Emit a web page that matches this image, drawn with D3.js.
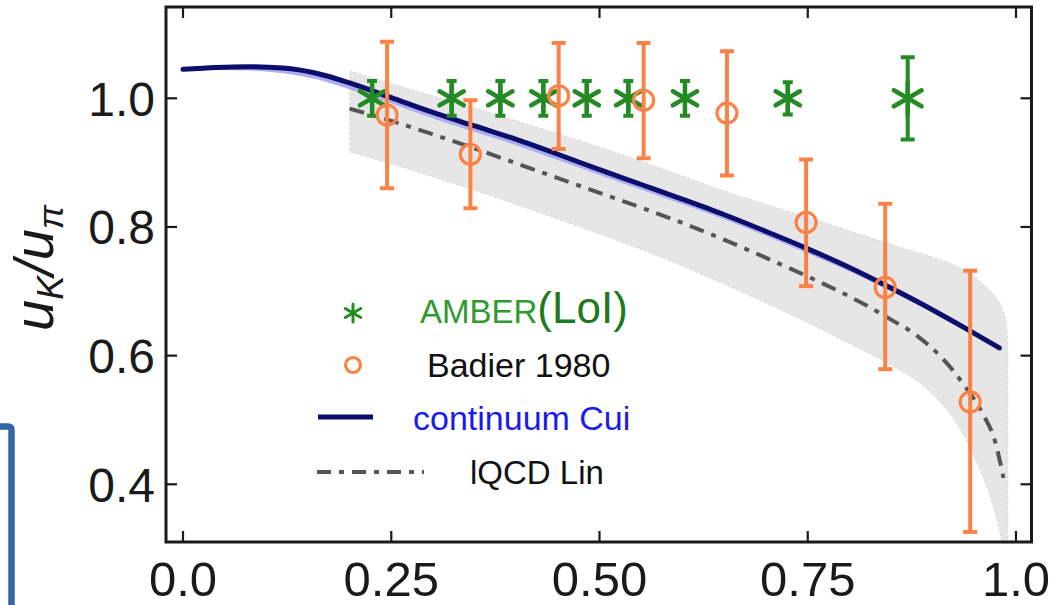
<!DOCTYPE html>
<html><head><meta charset="utf-8">
<script src="https://cdn.jsdelivr.net/npm/d3@7"></script>
<style>html,body{margin:0;padding:0;background:#fff;}svg{display:block;}</style>
</head><body>
<svg id="c" width="1056" height="605"></svg>
<script>
// ---------- data ----------
const xTicks = [0, 0.25, 0.5, 0.75, 1.0];
const xTickLabels = ["0.0", "0.25", "0.50", "0.75", "1.0"];
const yTicks = [0.4, 0.6, 0.8, 1.0];
const yTickLabels = ["0.4", "0.6", "0.8", "1.0"];

// continuum Cui (solid navy)
const cuiX = [0.00,0.04,0.08,0.12,0.16,0.20,0.25,0.30,0.35,0.40,0.45,0.50,0.55,0.60,0.65,0.70,0.75,0.80,0.85,0.90,0.94,0.98];
const cuiY = [1.045,1.048,1.049,1.047,1.039,1.024,1.001,0.978,0.957,0.936,0.913,0.889,0.866,0.843,0.819,0.793,0.766,0.737,0.705,0.671,0.642,0.612];
// thin lavender band around Cui
const cuiBandLo = [1.045,1.046,1.045,1.041,1.032,1.016,0.994,0.971,0.950,0.929,0.906,0.883,0.860,0.837,0.814,0.788,0.761,0.733,0.702,0.669,0.641,0.612];
const cuiBandHi = [1.045,1.049,1.050,1.048,1.040,1.025,1.002,0.979,0.958,0.937,0.914,0.890,0.867,0.844,0.820,0.794,0.767,0.738,0.706,0.672,0.643,0.612];

// lQCD Lin (dash-dot)
const linX = [0.20,0.25,0.30,0.35,0.40,0.45,0.50,0.55,0.60,0.65,0.70,0.75,0.80,0.85,0.88,0.91,0.94,0.96,0.975,0.985];
const linY = [0.984,0.965,0.944,0.922,0.899,0.876,0.853,0.830,0.806,0.780,0.752,0.723,0.692,0.656,0.632,0.598,0.550,0.510,0.466,0.410];
// lQCD band (grey)
const bandX  = [0.20,0.25,0.30,0.35,0.40,0.45,0.50,0.55,0.60,0.65,0.70,0.75,0.80,0.86,0.90,0.93,0.95,0.965,0.977,0.985,0.989,0.990];
const bandHi = [1.043,1.023,1.004,0.985,0.965,0.945,0.924,0.902,0.879,0.856,0.835,0.815,0.794,0.769,0.753,0.738,0.723,0.706,0.688,0.668,0.645,0.620];
const bandLoX = [0.20,0.25,0.30,0.35,0.40,0.45,0.50,0.55,0.60,0.65,0.70,0.75,0.80,0.85,0.90,0.93,0.955,0.975,0.990];
const bandLo  = [0.917,0.898,0.878,0.857,0.835,0.812,0.789,0.765,0.739,0.711,0.682,0.651,0.619,0.585,0.540,0.492,0.428,0.355,0.270];

// Badier 1980
const badX  = [0.245,0.345,0.451,0.553,0.653,0.748,0.843,0.945];
const badY  = [0.974,0.913,1.004,0.997,0.977,0.807,0.706,0.528];
const badHi = [1.088,0.997,1.086,1.086,1.073,0.905,0.836,0.732];
const badLo = [0.860,0.829,0.921,0.907,0.880,0.708,0.579,0.326];

// AMBER (LoI) projection
const ambX  = [0.227,0.3225,0.381,0.4326,0.4847,0.5346,0.6026,0.726,0.870];
const ambY  = [1,1,1,1,1,1,1,1,1];
const ambErr= [0.027,0.027,0.027,0.027,0.027,0.027,0.027,0.025,0.064];

// ---------- layout ----------
const svg = d3.select("#c");
const x = d3.scaleLinear().domain([0,1]).range([183,1016]);
const y = d3.scaleLinear().domain([0.4,1.0]).range([484.3,98.3]);
const F = {l:166, r:1031.5, t:7, b:542};
const font = "'Liberation Sans', Arial, Helvetica, sans-serif";

const defs = svg.append("defs");
defs.append("clipPath").attr("id","clip").append("rect")
  .attr("x",F.l).attr("y",F.t).attr("width",F.r-F.l).attr("height",F.b-F.t);

const g = svg.append("g").attr("clip-path","url(#clip)");

const lineGen = d3.line().x(d=>x(d[0])).y(d=>y(d[1])).curve(d3.curveMonotoneX);

// grey band
const hiPts = bandX.map((d,i)=>[d,bandHi[i]]);
const loPts = bandLoX.map((d,i)=>[d,bandLo[i]]);
const revGen = d3.line().x(d=>x(d[0])).y(d=>y(d[1])).curve(d3.curveMonotoneX);
const loPath = revGen(loPts); // drawn separately then combined via reversed order
const bandPath = lineGen(hiPts) + "L" + x(0.990) + "," + y(0.25) + "L" +
  d3.line().x(d=>x(d[0])).y(d=>y(d[1])).curve(d3.curveMonotoneX)(loPts.slice().reverse().map(d=>d)).slice(1) + "Z";
g.append("path").attr("d",bandPath).attr("fill","#e6e6e6").attr("stroke","#cacaca")
  .attr("stroke-width",0.8).attr("stroke-dasharray","2,3");

// lavender band
const cuiArea = d3.area().x((d,i)=>x(cuiX[i])).y0((d,i)=>y(cuiBandLo[i])).y1((d,i)=>y(cuiBandHi[i]))
  .curve(d3.curveMonotoneX);
g.append("path").attr("d",cuiArea(cuiX)).attr("fill","#adadf3").attr("stroke","#adadf3").attr("stroke-width",2.5);

// lQCD dash-dot
g.append("path").attr("d",lineGen(linX.map((d,i)=>[d,linY[i]])))
  .attr("fill","none").attr("stroke","#555").attr("stroke-width",4).attr("stroke-dasharray","15,8,5,8");

// Cui line
g.append("path").attr("d",lineGen(cuiX.map((d,i)=>[d,cuiY[i]])))
  .attr("fill","none").attr("stroke","#0d0d6b").attr("stroke-width",5).attr("stroke-linecap","round");

// AMBER stars
const green = "#248a24";
function star(sel, cx, cy, r, sw){
  const a = [90, 30, 150].map(v=>v*Math.PI/180);
  a.forEach(t=>{
    sel.append("line").attr("x1",cx-r*Math.cos(t)).attr("y1",cy-r*Math.sin(t))
      .attr("x2",cx+r*Math.cos(t)).attr("y2",cy+r*Math.sin(t))
      .attr("stroke",green).attr("stroke-width",sw).attr("stroke-linecap","round");
  });
}
ambX.forEach((xv,i)=>{
  const cx = x(xv), cy = y(ambY[i]);
  const yt = y(ambY[i]+ambErr[i]), yb = y(ambY[i]-ambErr[i]);
  const cw = i===ambX.length-1 ? 7 : 5;
  g.append("line").attr("x1",cx).attr("x2",cx).attr("y1",yt).attr("y2",yb).attr("stroke",green).attr("stroke-width",4);
  [yt,yb].forEach(yy=>g.append("line").attr("x1",cx-cw).attr("x2",cx+cw).attr("y1",yy).attr("y2",yy)
     .attr("stroke",green).attr("stroke-width",4));
  star(g, cx, cy, i===ambX.length-1 ? 16 : 14, 4.5);
});

// Badier
const orange = "#fb8247";
badX.forEach((xv,i)=>{
  const cx = x(xv);
  g.append("line").attr("x1",cx).attr("x2",cx).attr("y1",y(badHi[i])).attr("y2",y(badLo[i]))
    .attr("stroke",orange).attr("stroke-width",4);
  [badHi[i],badLo[i]].forEach(v=>g.append("line").attr("x1",cx-7).attr("x2",cx+7)
    .attr("y1",y(v)).attr("y2",y(v)).attr("stroke",orange).attr("stroke-width",4));
  g.append("circle").attr("cx",cx).attr("cy",y(badY[i])).attr("r",10)
    .attr("fill","none").attr("stroke",orange).attr("stroke-width",3.2);
});

// ---------- frame & ticks ----------
const ax = svg.append("g").attr("stroke","#1a1a1a");
ax.append("rect").attr("x",F.l).attr("y",F.t).attr("width",F.r-F.l).attr("height",F.b-F.t)
  .attr("fill","none").attr("stroke-width",3);
xTicks.forEach(v=>{
  ax.append("line").attr("x1",x(v)).attr("x2",x(v)).attr("y1",F.b).attr("y2",F.b-11).attr("stroke-width",2.2);
  ax.append("line").attr("x1",x(v)).attr("x2",x(v)).attr("y1",F.t).attr("y2",F.t+11).attr("stroke-width",2.2);
});
yTicks.forEach(v=>{
  ax.append("line").attr("x1",F.l).attr("x2",F.l+11).attr("y1",y(v)).attr("y2",y(v)).attr("stroke-width",2.2);
  ax.append("line").attr("x1",F.r).attr("x2",F.r-11).attr("y1",y(v)).attr("y2",y(v)).attr("stroke-width",2.2);
});
xTicks.forEach((v,i)=>{
  svg.append("text").attr("x",x(v)).attr("y",596).attr("text-anchor","middle")
    .attr("font-family",font).attr("font-size",49).attr("fill","#1a1a1a").text(xTickLabels[i]);
});
yTicks.forEach((v,i)=>{
  svg.append("text").attr("x",155).attr("y",y(v)+17.5).attr("text-anchor","end")
    .attr("font-family",font).attr("font-size",48).attr("fill","#1a1a1a").text(yTickLabels[i]);
});

// y-axis label
const yl = svg.append("text").attr("transform","translate(53,268) rotate(-90)")
  .attr("text-anchor","middle").attr("font-family",font).attr("font-style","italic")
  .attr("font-size",56).attr("fill","#1a1a1a");
yl.append("tspan").text("u");
yl.append("tspan").attr("font-size",36).attr("dy",10).text("K");
yl.append("tspan").attr("dy",-10).text("/u");
yl.append("tspan").attr("font-size",36).attr("dy",10).text("π");

// ---------- legend ----------
star(svg, 353, 313, 9, 3);
svg.append("text").attr("x",420).attr("y",323).attr("font-family",font).attr("font-size",33)
  .attr("fill","#2f9a2f").text("AMBER")
  .append("tspan").attr("font-size",44).attr("fill","#1f7a1f").text("(LoI)");
svg.append("circle").attr("cx",353).attr("cy",365).attr("r",7.5).attr("fill","none")
  .attr("stroke",orange).attr("stroke-width",3.2);
svg.append("text").attr("x",427).attr("y",377).attr("font-family",font).attr("font-size",34)
  .attr("fill","#111").text("Badier 1980");
svg.append("line").attr("x1",318).attr("x2",373).attr("y1",417).attr("y2",417)
  .attr("stroke","#0d0d6b").attr("stroke-width",5);
svg.append("text").attr("x",413).attr("y",430).attr("font-family",font).attr("font-size",34)
  .attr("fill","#1a1aee").text("continuum Cui");
svg.append("line").attr("x1",317).attr("x2",424).attr("y1",472).attr("y2",472)
  .attr("stroke","#555").attr("stroke-width",4).attr("stroke-dasharray","14,8,5,8");
svg.append("text").attr("x",470).attr("y",484).attr("font-family",font).attr("font-size",33)
  .attr("fill","#111").text("lQCD Lin");

// blue box at bottom-left
svg.append("path").attr("d","M-10,426.5 L8,426.5 Q11.5,426.5 11.5,430 L11.5,615")
  .attr("fill","none").attr("stroke","#3564a8").attr("stroke-width",6.5);
</script>
</body></html>
